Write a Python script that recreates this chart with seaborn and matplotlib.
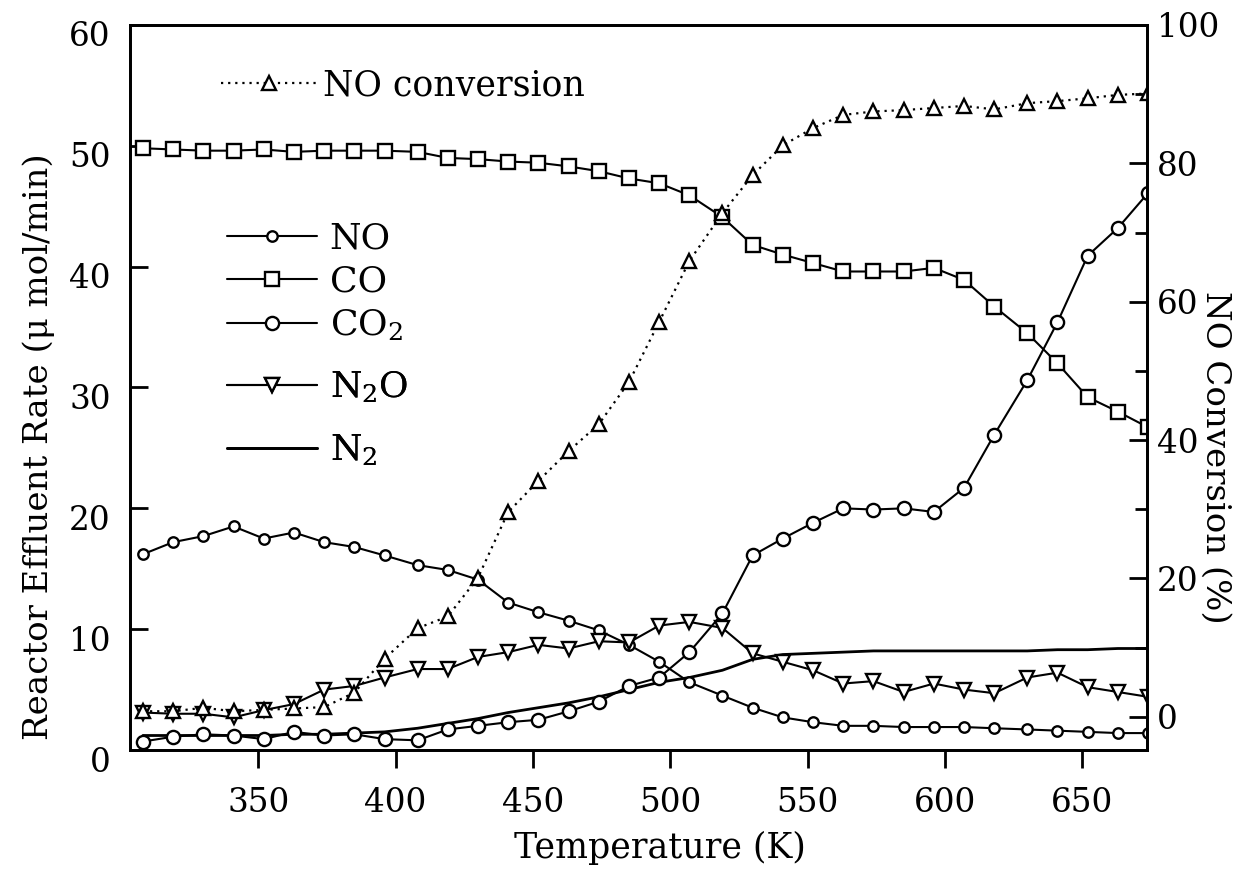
import matplotlib
matplotlib.use("Agg")
import matplotlib.pyplot as plt
import matplotlib.transforms as mtransforms
from matplotlib.ticker import FixedLocator
import seaborn as sns

# ---------------- data ----------------
temperature = [308, 319, 330, 341, 352, 363, 374, 385, 396, 408, 419, 430, 441, 452,
               463, 474, 485, 496, 507, 519, 530, 541, 552, 563, 574, 585, 596, 607,
               618, 630, 641, 652, 663, 674]
no_rate = [16.2, 17.2, 17.7, 18.5, 17.5, 18.0, 17.2, 16.8, 16.1, 15.3, 14.9, 14.1, 12.2, 11.4,
           10.7, 9.9, 8.7, 7.3, 5.6, 4.5, 3.5, 2.7, 2.3, 2.0, 2.0, 1.9, 1.9, 1.9,
           1.8, 1.7, 1.6, 1.5, 1.4, 1.4]
co_rate = [49.8, 49.7, 49.6, 49.6, 49.7, 49.5, 49.6, 49.6, 49.6, 49.5, 49.0, 48.9, 48.7, 48.6,
           48.3, 47.9, 47.3, 46.9, 45.9, 44.1, 41.8, 41.0, 40.3, 39.6, 39.6, 39.6, 39.9, 38.9,
           36.7, 34.5, 32.0, 29.2, 28.0, 26.7]
co2_rate = [0.7, 1.1, 1.3, 1.2, 0.9, 1.5, 1.2, 1.3, 0.9, 0.8, 1.7, 2.0, 2.3, 2.5,
            3.2, 4.0, 5.3, 6.0, 8.1, 11.3, 16.1, 17.5, 18.8, 20.0, 19.9, 20.0, 19.7, 21.7,
            26.1, 30.6, 35.4, 40.9, 43.2, 46.1]
n2o_rate = [3.1, 3.0, 3.0, 2.7, 3.3, 3.8, 5.0, 5.3, 6.0, 6.7, 6.7, 7.7, 8.1, 8.7,
            8.4, 9.0, 8.9, 10.3, 10.6, 10.1, 8.0, 7.3, 6.6, 5.5, 5.7, 4.8, 5.5, 5.0,
            4.7, 6.0, 6.4, 5.2, 4.8, 4.4]
n2_rate = [1.2, 1.2, 1.2, 1.2, 1.2, 1.3, 1.3, 1.4, 1.5, 1.8, 2.2, 2.6, 3.1, 3.5,
           3.9, 4.4, 5.0, 5.6, 6.0, 6.6, 7.5, 7.9, 8.0, 8.1, 8.2, 8.2, 8.2, 8.2,
           8.2, 8.2, 8.3, 8.3, 8.4, 8.4]
no_conversion = [0.8, 0.8, 1.3, 0.8, 1.0, 1.2, 1.4, 3.5, 8.4, 12.8, 14.5, 20.1, 29.6, 34.1,
                 38.4, 42.3, 48.4, 57.1, 65.9, 72.8, 78.3, 82.6, 85.1, 87.0, 87.5, 87.7, 88.0, 88.3,
                 87.8, 88.7, 89.0, 89.4, 89.9, 90.1]

x_ticks = [350, 400, 450, 500, 550, 600, 650]
left_ticks = [0, 10, 20, 30, 40, 50, 60]
right_ticks = [0, 20, 40, 60, 80, 100]
right_minor = [10, 30, 50, 70, 90]

# ---------------- style ----------------
sns.set_style("ticks")
plt.rcParams["font.family"] = ["DejaVu Serif"]
plt.rcParams["mathtext.fontset"] = "dejavuserif"
plt.rcParams["text.color"] = "black"
plt.rcParams["axes.labelcolor"] = "black"
plt.rcParams["xtick.color"] = "black"
plt.rcParams["ytick.color"] = "black"

fig = plt.figure(figsize=(12.48, 8.73), dpi=100)
ax = fig.add_axes([130 / 1248, 1 - 750 / 873, 1017 / 1248, 725 / 873])
ax2 = ax.twinx()

common = dict(color="black", markerfacecolor="white", markeredgecolor="black",
              markeredgewidth=1.7, linewidth=1.5)

sns.lineplot(x=temperature, y=n2_rate, ax=ax, color="black", linewidth=2.0, label="N$_2$")
sns.lineplot(x=temperature, y=no_rate, ax=ax, marker="o", markersize=7.5, label="NO", **common)
sns.lineplot(x=temperature, y=co_rate, ax=ax, marker="s", markersize=10, label="CO", **common)
sns.lineplot(x=temperature, y=co2_rate, ax=ax, marker="o", markersize=9.5, label="CO$_2$", **common)
sns.lineplot(x=temperature, y=n2o_rate, ax=ax, marker="v", markersize=10, label="N$_2$O", **common)

sns.lineplot(x=temperature, y=no_conversion, ax=ax2, marker="^", markersize=9.5,
             linestyle=(0, (1, 2.2)), color="black", markerfacecolor="white",
             markeredgecolor="black", markeredgewidth=1.7, linewidth=1.6,
             label="NO conversion")

ax.set_xlim(303.3, 673.6)
ax.set_ylim(0, 60)
ax2.set_ylim(-4.8, 100)

ax.xaxis.set_major_locator(FixedLocator(x_ticks))
ax.yaxis.set_major_locator(FixedLocator(left_ticks))
ax2.yaxis.set_major_locator(FixedLocator(right_ticks))
ax2.yaxis.set_minor_locator(FixedLocator(right_minor))

for a in (ax, ax2):
    for s in a.spines.values():
        s.set_visible(True)
        s.set_linewidth(2.0)
        s.set_color("black")

ax.tick_params(axis="x", direction="out", length=13, width=2.0, labelsize=23.5, pad=14, top=False)
ax.tick_params(axis="y", direction="in", length=13, width=2.0, labelsize=23.5, pad=14, right=False)
ax2.tick_params(axis="y", which="major", direction="in", length=13, width=2.0, labelsize=23.5, pad=7)
ax2.tick_params(axis="y", which="minor", direction="in", length=9, width=2.0)

# left tick labels sit slightly below their ticks in the reference
offset = mtransforms.ScaledTranslation(0, -9 / 100, fig.dpi_scale_trans)
for lab in ax.get_yticklabels():
    lab.set_transform(lab.get_transform() + offset)

ax.set_xlabel("Temperature (K)", fontsize=25, va="center", ha="center")
ax.set_ylabel("Reactor Effluent Rate (\u03bc mol/min)", fontsize=24.5, va="center", ha="center")
ax2.set_ylabel("NO Conversion (%)", fontsize=24.5, rotation=-90, va="center", ha="center")
ax.xaxis.set_label_coords(0.521, -0.135)
ax.yaxis.set_label_coords(-0.09, 0.418)
ax2.yaxis.set_label_coords(1.067, 0.404)

# legends
h, l = ax.get_legend_handles_labels()
hd = dict(zip(l, h))
top_rows = ["NO", "CO", "CO$_2$"]
low_rows = ["N$_2$O", "N$_2$"]
leg_a = ax.legend([hd[k] for k in top_rows], top_rows, loc="upper left",
                  bbox_to_anchor=(0.095, 0.729), frameon=False, fontsize=26,
                  handlelength=2.5, handletextpad=0.35, labelspacing=0.25,
                  borderpad=0, borderaxespad=0)
ax.add_artist(leg_a)
leg_b = ax.legend([hd[k] for k in low_rows], low_rows, loc="center left",
                  bbox_to_anchor=(0.095, 0.457), frameon=False, fontsize=26,
                  handlelength=2.5, handletextpad=0.35, labelspacing=0.78,
                  borderpad=0, borderaxespad=0)
ax.add_artist(leg_b)
h2, l2 = ax2.get_legend_handles_labels()
leg2 = ax2.legend(h2, l2, loc="center left", bbox_to_anchor=(0.089, 0.917),
                  frameon=False, fontsize=25, handlelength=2.8, handletextpad=0.15,
                  borderpad=0, borderaxespad=0)

fig.savefig("out.png", dpi=100)
